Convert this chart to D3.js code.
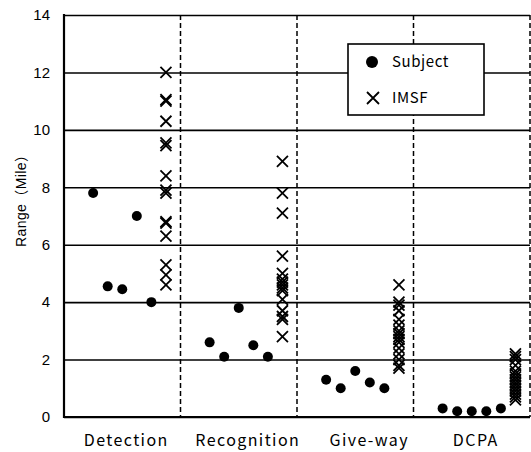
<!DOCTYPE html>
<html>
<head>
<meta charset="utf-8">
<script src="https://cdn.jsdelivr.net/npm/d3@7"></script>
<style>
  body { margin: 0; background: #fff; }
  svg { display: block; }
</style>
</head>
<body>
<svg id="chart" width="531" height="452"></svg>
<script>
// chart data
const categories = ["Detection", "Recognition", "Give-way", "DCPA"];
const subjectValues = [
    [7.8, 4.55, 4.45, 7.0, 4.0],
    [2.6, 2.1, 3.8, 2.5, 2.1],
    [1.3, 1.0, 1.6, 1.2, 1.0],
    [0.3, 0.2, 0.2, 0.2, 0.3]
];
const imsfValues = [
    [12.0, 11.05, 11.0, 10.3, 9.55, 9.45, 8.4, 7.9, 7.8, 6.8, 6.75, 6.3, 5.3, 4.95, 4.6],
    [8.9, 7.8, 7.1, 5.6, 5.0, 4.8, 4.7, 4.6, 4.5, 4.4, 4.1, 3.7, 3.5, 3.4, 2.8],
    [4.6, 4.0, 3.9, 3.7, 3.4, 3.2, 3.0, 2.9, 2.8, 2.7, 2.6, 2.4, 2.2, 2.0, 1.8, 1.7],
    [2.2, 2.1, 2.0, 1.8, 1.6, 1.5, 1.4, 1.3, 1.2, 1.1, 1.0, 0.9, 0.8, 0.7, 0.6]
];
const yTicks = [0, 2, 4, 6, 8, 10, 12, 14];
const legendLabels = ["Subject", "IMSF"];

// layout
const margin = {top: 15, right: 1, bottom: 35, left: 64};
const slotsPerCategory = 8;   // each category spans 8 x-units
const firstSubjectSlot = 2;   // subject dots sit at slots 2..6, IMSF at slot 7
const imsfSlot = 7;
const labelShift = [4, 9, 14, 4]; // small offsets of the category labels, px

const svg = d3.select("#chart");
const width = +svg.attr("width");
const height = +svg.attr("height");
const innerW = width - margin.left - margin.right;

const x = d3.scaleLinear()
    .domain([0, categories.length * slotsPerCategory])
    .range([margin.left, width - margin.right]);
const y = d3.scaleLinear()
    .domain([0, 14])
    .range([height - margin.bottom, margin.top]);

// horizontal grid lines + tick labels
const yAxis = svg.append("g")
    .attr("transform", "translate(" + margin.left + ",0)")
    .call(d3.axisLeft(y).tickValues(yTicks).tickSize(-innerW).tickPadding(14).tickFormat(d3.format("d")));
yAxis.select(".domain").remove();
yAxis.selectAll(".tick line")
    .attr("stroke", "#000")
    .attr("stroke-width", 1.6);
yAxis.selectAll(".tick text")
    .attr("font-family", "'Liberation Sans', Arial, sans-serif")
    .attr("font-size", 15)
    .attr("fill", "#000");

// dashed category dividers
const dividers = d3.range(1, categories.length + 1).map(i => i * slotsPerCategory);
svg.append("g").selectAll("line")
    .data(dividers)
    .enter()
    .append("line")
    .attr("x1", d => x(d)).attr("x2", d => x(d))
    .attr("y1", y(14)).attr("y2", y(0))
    .attr("stroke", "#000")
    .attr("stroke-width", 1.5)
    .attr("stroke-dasharray", "5,3");

// left and bottom axis lines
svg.append("line")
    .attr("x1", x(0)).attr("x2", x(0))
    .attr("y1", y(14) - 1).attr("y2", y(0) + 1)
    .attr("stroke", "#000").attr("stroke-width", 2.2);
svg.append("line")
    .attr("x1", x(0)).attr("x2", x(categories.length * slotsPerCategory))
    .attr("y1", y(0)).attr("y2", y(0))
    .attr("stroke", "#000").attr("stroke-width", 2.2);

// subject dots
const subjectPoints = [];
subjectValues.forEach((vals, c) => {
    vals.forEach((v, i) => {
        subjectPoints.push({slot: c * slotsPerCategory + firstSubjectSlot + i, value: v});
    });
});
svg.append("g").selectAll("circle")
    .data(subjectPoints)
    .enter()
    .append("circle")
    .attr("cx", d => x(d.slot))
    .attr("cy", d => y(d.value))
    .attr("r", 5)
    .attr("fill", "#000");

// IMSF crosses
const imsfPoints = [];
imsfValues.forEach((vals, c) => {
    vals.forEach(v => {
        imsfPoints.push({slot: c * slotsPerCategory + imsfSlot, value: v});
    });
});
const crossPath = function(s){
    return "M" + (-s) + "," + (-s) + "L" + s + "," + s + "M" + (-s) + "," + s + "L" + s + "," + (-s);
};
svg.append("g").selectAll("path")
    .data(imsfPoints)
    .enter()
    .append("path")
    .attr("transform", d => "translate(" + x(d.slot) + "," + y(d.value) + ")")
    .attr("d", crossPath(5.5))
    .attr("fill", "none")
    .attr("stroke", "#000")
    .attr("stroke-width", 1.8);

// category labels
svg.append("g").selectAll("text")
    .data(categories)
    .enter()
    .append("text")
    .attr("x", (d, i) => x((i + 0.5) * slotsPerCategory) + labelShift[i])
    .attr("y", height - 6)
    .attr("text-anchor", "middle")
    .attr("font-family", "'Noto Sans CJK JP', sans-serif")
    .attr("font-size", 16)
    .attr("letter-spacing", 1.4)
    .attr("fill", "#000")
    .text(d => d);

// y axis title
svg.append("text")
    .attr("transform", "translate(26," + y(7.65) + ") rotate(-90)")
    .attr("text-anchor", "middle")
    .attr("font-family", "'Liberation Sans', 'Noto Sans CJK JP', sans-serif")
    .attr("font-size", 14)
    .attr("letter-spacing", 0.4)
    .attr("fill", "#000")
    .text("Range（Mile）");

// legend
const legend = svg.append("g").attr("transform", "translate(348,44)");
legend.append("rect")
    .attr("width", 136)
    .attr("height", 71)
    .attr("fill", "#fff")
    .attr("stroke", "#000")
    .attr("stroke-width", 1.6);
legend.append("circle")
    .attr("cx", 24).attr("cy", 18).attr("r", 6)
    .attr("fill", "#000");
legend.append("path")
    .attr("transform", "translate(25,54)")
    .attr("d", crossPath(6))
    .attr("fill", "none")
    .attr("stroke", "#000")
    .attr("stroke-width", 1.8);
legend.selectAll("text")
    .data(legendLabels)
    .enter()
    .append("text")
    .attr("x", 44)
    .attr("y", (d, i) => 23 + i * 36)
    .attr("font-family", "'Noto Sans CJK JP', sans-serif")
    .attr("font-size", 15)
    .attr("letter-spacing", 0.6)
    .attr("fill", "#000")
    .text(d => d);
</script>
</body>
</html>
